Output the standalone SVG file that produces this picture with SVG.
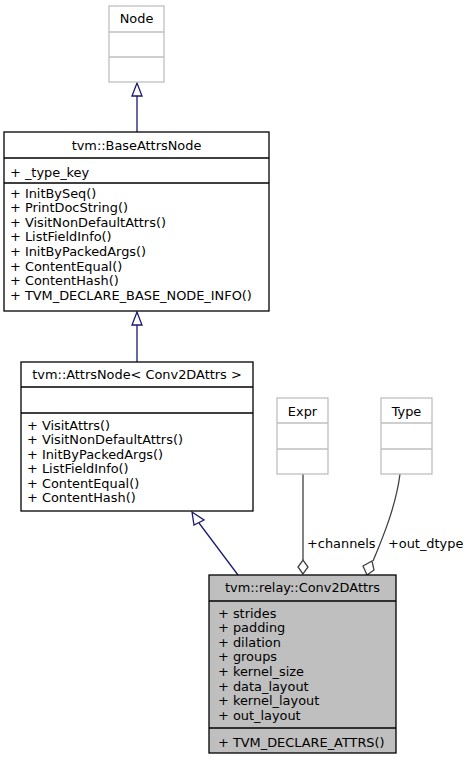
<svg xmlns="http://www.w3.org/2000/svg" width="469" height="760" viewBox="0 0 469 760">
<defs>
<style>
text{font-family:"DejaVu Sans","Liberation Sans",sans-serif;font-size:12.9px;fill:#000}
.c{text-anchor:middle}
.box{fill:#fff;stroke:#000;stroke-width:1.3}
.gbox{fill:#fff;stroke:#bfbfbf;stroke-width:1.3}
.sel{fill:#bfbfbf;stroke:#000;stroke-width:1.3}
.ln{stroke:#000;stroke-width:1.3}
.gln{stroke:#bfbfbf;stroke-width:1.3}
.inh{fill:none;stroke:#191970;stroke-width:1.3}
.agg{fill:none;stroke:#404040;stroke-width:1.3}
</style>
</defs>
<rect width="469" height="760" fill="#fff"/>
<g id="connectors">
  <line class="inh" x1="137" y1="96" x2="137" y2="132"/>
  <polygon class="inh" points="137,83 132,96 142,96" fill="#fff"/>
  <line class="inh" x1="137" y1="325" x2="137" y2="362"/>
  <polygon class="inh" points="137,312 132,325 142,325" fill="#fff"/>
  <line class="inh" x1="199" y1="523" x2="238" y2="575"/>
  <polygon class="inh" points="192,512 194,525 204,520" fill="#fff"/>
  <line class="agg" x1="303" y1="474" x2="303" y2="560"/>
  <polygon class="agg" points="303,574 298,567 303,560 308,567" fill="#fff"/>
  <text x="307" y="547.5">+channels</text>
  <path class="agg" d="M400,474 C396,505 384,535 373,561"/>
  <polygon class="agg" points="367,575 363,566 372,561 374,570" fill="#fff"/>
  <text x="388" y="547.5">+out_dtype</text>
</g>
<g id="node-Node">
  <rect class="gbox" x="109" y="6" width="55" height="76"/>
  <line class="gln" x1="109" y1="32" x2="164" y2="32"/>
  <line class="gln" x1="109" y1="57" x2="164" y2="57"/>
  <text class="c" x="136.5" y="23">Node</text>
</g>
<g id="node-BaseAttrsNode">
  <rect class="box" x="4" y="132" width="265" height="179"/>
  <line class="ln" x1="4" y1="158" x2="269" y2="158"/>
  <line class="ln" x1="4" y1="183" x2="269" y2="183"/>
  <text class="c" x="136.5" y="150">tvm::BaseAttrsNode</text>
  <text x="10" y="176.5">+ _type_key</text>
  <text x="10" y="197.5">+ InitBySeq()</text>
  <text x="10" y="212.1">+ PrintDocString()</text>
  <text x="10" y="226.7">+ VisitNonDefaultAttrs()</text>
  <text x="10" y="241.3">+ ListFieldInfo()</text>
  <text x="10" y="255.9">+ InitByPackedArgs()</text>
  <text x="10" y="270.5">+ ContentEqual()</text>
  <text x="10" y="285.1">+ ContentHash()</text>
  <text x="10" y="299.7">+ TVM_DECLARE_BASE_NODE_INFO()</text>
</g>
<g id="node-AttrsNode">
  <rect class="box" x="21" y="362" width="232" height="149"/>
  <line class="ln" x1="21" y1="387" x2="253" y2="387"/>
  <line class="ln" x1="21" y1="413" x2="253" y2="413"/>
  <text class="c" x="137" y="379">tvm::AttrsNode&lt; Conv2DAttrs &gt;</text>
  <text x="27" y="429.5">+ VisitAttrs()</text>
  <text x="27" y="444">+ VisitNonDefaultAttrs()</text>
  <text x="27" y="458.5">+ InitByPackedArgs()</text>
  <text x="27" y="473">+ ListFieldInfo()</text>
  <text x="27" y="487.5">+ ContentEqual()</text>
  <text x="27" y="502">+ ContentHash()</text>
</g>
<g id="node-Expr">
  <rect class="gbox" x="277" y="398" width="51" height="76"/>
  <line class="gln" x1="277" y1="423" x2="328" y2="423"/>
  <line class="gln" x1="277" y1="449" x2="328" y2="449"/>
  <text class="c" x="302.5" y="415.5">Expr</text>
</g>
<g id="node-Type">
  <rect class="gbox" x="381" y="398" width="51" height="76"/>
  <line class="gln" x1="381" y1="423" x2="432" y2="423"/>
  <line class="gln" x1="381" y1="449" x2="432" y2="449"/>
  <text class="c" x="406.5" y="415.5">Type</text>
</g>
<g id="node-Conv2DAttrs">
  <rect class="sel" x="209" y="575" width="187" height="178"/>
  <line class="ln" x1="209" y1="601" x2="396" y2="601"/>
  <line class="ln" x1="209" y1="728" x2="396" y2="728"/>
  <text class="c" x="302.5" y="592">tvm::relay::Conv2DAttrs</text>
  <text x="218" y="617.5">+ strides</text>
  <text x="218" y="632.1">+ padding</text>
  <text x="218" y="646.7">+ dilation</text>
  <text x="218" y="661.3">+ groups</text>
  <text x="218" y="675.9">+ kernel_size</text>
  <text x="218" y="690.5">+ data_layout</text>
  <text x="218" y="705.1">+ kernel_layout</text>
  <text x="218" y="719.7">+ out_layout</text>
  <text x="218" y="746.5">+ TVM_DECLARE_ATTRS()</text>
</g>
</svg>
